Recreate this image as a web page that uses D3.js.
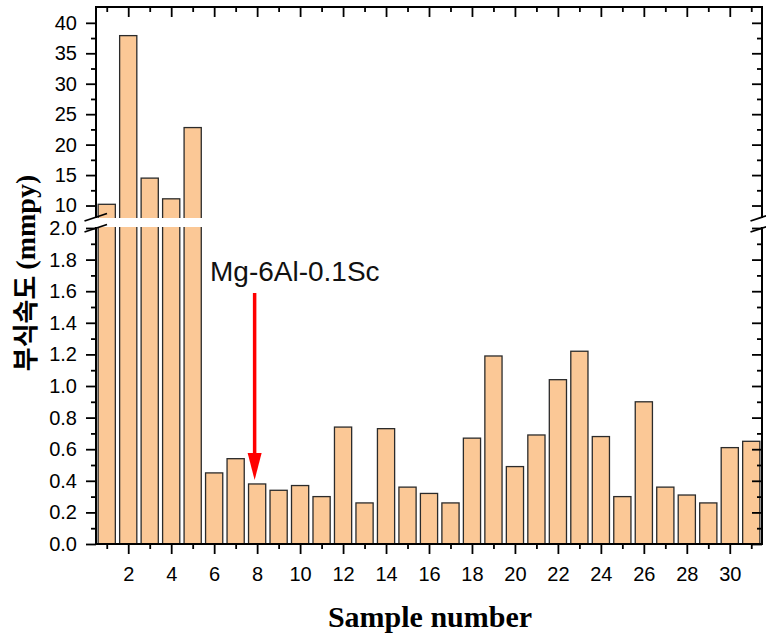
<!DOCTYPE html>
<html>
<head>
<meta charset="utf-8">
<script src="https://cdn.jsdelivr.net/npm/d3@7"></script>
<style>
body { margin: 0; background: #fff; }
text { font-family: "Liberation Sans", Arial, sans-serif; }
</style>
</head>
<body>
<svg id="chart"></svg>
<script>
// data
const samples = d3.range(1, 32);
const rates = [10.2, 37.9, 14.5, 11.1, 22.8, 0.45, 0.54, 0.38, 0.34, 0.37, 0.30, 0.74, 0.26, 0.73,
    0.36, 0.32, 0.26, 0.67, 1.19, 0.49, 0.69, 1.04, 1.22, 0.68, 0.30, 0.90, 0.36, 0.31, 0.26, 0.61, 0.65];
const xMajor = [2, 4, 6, 8, 10, 12, 14, 16, 18, 20, 22, 24, 26, 28, 30];
const xMinor = [1, 3, 5, 7, 9, 11, 13, 15, 17, 19, 21, 23, 25, 27, 29, 31];
const lowMajor = [0.0, 0.2, 0.4, 0.6, 0.8, 1.0, 1.2, 1.4, 1.6, 1.8, 2.0];
const lowMinor = [0.1, 0.3, 0.5, 0.7, 0.9, 1.1, 1.3, 1.5, 1.7, 1.9];
const upMajor = [10, 15, 20, 25, 30, 35, 40];
const upMinor = [12.5, 17.5, 22.5, 27.5, 32.5, 37.5];
const annotation = "Mg-6Al-0.1Sc";
const arrowSample = 8;

const width = 766, height = 640;
const pLeft = 96, pRight = 762, pTop = 7, pBottom = 544;
const gapTop = 218, gapBottom = 227;

const svg = d3.select("#chart")
    .attr("width", width)
    .attr("height", height);

svg.append("rect").attr("width", width).attr("height", height).attr("fill", "#fff");

const x = d3.scaleLinear().domain([0.5, 31.5]).range([pLeft, pRight]);
const yLow = d3.scaleLinear().domain([0, 2]).range([pBottom, 228]);
const yUp = d3.scaleLinear().domain([7.95, 42.6]).range([gapTop, pTop]);
const barW = (x(2) - x(1)) * 0.8;

const defs = svg.append("defs");
defs.append("clipPath").attr("id", "clipLow")
    .append("rect").attr("x", pLeft).attr("y", gapBottom).attr("width", pRight - pLeft).attr("height", pBottom - gapBottom);
defs.append("clipPath").attr("id", "clipUp")
    .append("rect").attr("x", pLeft).attr("y", pTop).attr("width", pRight - pLeft).attr("height", gapTop - pTop);

const data = samples.map((s, i) => ({ s: s, v: rates[i] }));

// lower segment bars
svg.append("g").attr("clip-path", "url(#clipLow)")
    .selectAll("rect")
    .data(data)
    .enter().append("rect")
    .attr("x", d => x(d.s) - barW / 2)
    .attr("width", barW)
    .attr("y", d => d.v > 2 ? gapBottom - 20 : yLow(d.v))
    .attr("height", d => yLow(0) - (d.v > 2 ? gapBottom - 20 : yLow(d.v)))
    .attr("fill", "#fbc896")
    .attr("stroke", "#2b2b2b")
    .attr("stroke-width", 1.3);

// upper segment bars
svg.append("g").attr("clip-path", "url(#clipUp)")
    .selectAll("rect")
    .data(data.filter(d => d.v > 2))
    .enter().append("rect")
    .attr("x", d => x(d.s) - barW / 2)
    .attr("width", barW)
    .attr("y", d => yUp(d.v))
    .attr("height", d => gapTop + 20 - yUp(d.v))
    .attr("fill", "#fbc896")
    .attr("stroke", "#2b2b2b")
    .attr("stroke-width", 1.3);

// axes
function styleAxis(g) {
    g.select(".domain").remove();
    g.selectAll("line").attr("stroke", "#000").attr("stroke-width", 1.8);
    g.selectAll("text").attr("font-size", 20).attr("fill", "#000")
        .style("font-family", "'Liberation Sans', Arial, sans-serif");
}

// bottom
svg.append("g").attr("transform", `translate(0,${pBottom})`)
    .call(d3.axisBottom(x).tickValues(xMajor).tickSize(10).tickPadding(13).tickFormat(d3.format("d")))
    .call(styleAxis);
svg.append("g").attr("transform", `translate(0,${pBottom})`)
    .call(d3.axisBottom(x).tickValues(xMinor).tickSize(5).tickFormat(""))
    .call(styleAxis);
// top (inward)
svg.append("g").attr("transform", `translate(0,${pTop})`)
    .call(d3.axisTop(x).tickValues(xMajor).tickSize(-10).tickFormat(""))
    .call(styleAxis);
svg.append("g").attr("transform", `translate(0,${pTop})`)
    .call(d3.axisTop(x).tickValues(xMinor).tickSize(-5).tickFormat(""))
    .call(styleAxis);
// left
svg.append("g").attr("transform", `translate(${pLeft},0)`)
    .call(d3.axisLeft(yLow).tickValues(lowMajor).tickSize(10).tickPadding(9).tickFormat(d3.format(".1f")))
    .call(styleAxis);
svg.append("g").attr("transform", `translate(${pLeft},0)`)
    .call(d3.axisLeft(yLow).tickValues(lowMinor).tickSize(5).tickFormat(""))
    .call(styleAxis);
svg.append("g").attr("transform", `translate(${pLeft},0)`)
    .call(d3.axisLeft(yUp).tickValues(upMajor).tickSize(10).tickPadding(9).tickFormat(d3.format("d")))
    .call(styleAxis);
svg.append("g").attr("transform", `translate(${pLeft},0)`)
    .call(d3.axisLeft(yUp).tickValues(upMinor).tickSize(5).tickFormat(""))
    .call(styleAxis);
// right (inward)
svg.append("g").attr("transform", `translate(${pRight},0)`)
    .call(d3.axisRight(yLow).tickValues(lowMajor).tickSize(-10).tickFormat(""))
    .call(styleAxis);
svg.append("g").attr("transform", `translate(${pRight},0)`)
    .call(d3.axisRight(yLow).tickValues(lowMinor).tickSize(-5).tickFormat(""))
    .call(styleAxis);
svg.append("g").attr("transform", `translate(${pRight},0)`)
    .call(d3.axisRight(yUp).tickValues(upMajor).tickSize(-10).tickFormat(""))
    .call(styleAxis);
svg.append("g").attr("transform", `translate(${pRight},0)`)
    .call(d3.axisRight(yUp).tickValues(upMinor).tickSize(-5).tickFormat(""))
    .call(styleAxis);

// frame lines
const frame = svg.append("g").attr("stroke", "#000").attr("stroke-width", 2).attr("stroke-linecap", "square");
frame.append("line").attr("x1", pLeft).attr("x2", pRight).attr("y1", pTop).attr("y2", pTop);
frame.append("line").attr("x1", pLeft).attr("x2", pRight).attr("y1", pBottom).attr("y2", pBottom);
[pLeft, pRight].forEach(px => {
    frame.append("line").attr("x1", px).attr("x2", px).attr("y1", pTop).attr("y2", gapTop).attr("stroke-linecap", "butt");
    frame.append("line").attr("x1", px).attr("x2", px).attr("y1", gapBottom).attr("y2", pBottom).attr("stroke-linecap", "butt");
});

// break gap and slashes
svg.append("rect")
    .attr("x", pLeft - 12).attr("y", gapTop + 0.5)
    .attr("width", pRight - pLeft + 24).attr("height", gapBottom - gapTop - 1)
    .attr("fill", "#fff");
[pLeft, pRight].forEach(px => {
    svg.append("line").attr("x1", px - 11.5).attr("y1", gapTop + 3).attr("x2", px + 11).attr("y2", gapTop - 4.5)
        .attr("stroke", "#000").attr("stroke-width", 1.8);
    svg.append("line").attr("x1", px - 11.5).attr("y1", gapBottom + 5).attr("x2", px + 11).attr("y2", gapBottom - 2.5)
        .attr("stroke", "#000").attr("stroke-width", 1.8);
});

// annotation with arrow
const ax = x(arrowSample) - 2.5;
svg.append("text")
    .attr("x", 210).attr("y", 281)
    .attr("font-size", 28)
    .attr("fill", "#111")
    .text(annotation);
svg.append("line")
    .attr("x1", ax).attr("x2", ax)
    .attr("y1", 293).attr("y2", 456)
    .attr("stroke", "#ff0000").attr("stroke-width", 3.5);
svg.append("path")
    .attr("d", `M${ax - 7},453 L${ax + 7},453 L${ax},${yLow(0.405)} Z`)
    .attr("fill", "#ff0000");

// axis titles
svg.append("text")
    .attr("transform", "translate(35,273) rotate(-90)")
    .attr("text-anchor", "middle")
    .attr("font-weight", "bold")
    .call(t => {
        t.append("tspan").style("font-family", "'Noto Sans CJK KR', sans-serif").attr("font-size", 26).text("부식속도 ");
        t.append("tspan").style("font-family", "'Liberation Serif', 'Times New Roman', serif").attr("font-size", 28).text("(mmpy)");
    });

svg.append("text")
    .attr("x", 430).attr("y", 627)
    .attr("text-anchor", "middle")
    .attr("font-weight", "bold")
    .attr("font-size", 30)
    .style("font-family", "'Liberation Serif', 'Times New Roman', serif")
    .text("Sample number");
</script>
</body>
</html>
